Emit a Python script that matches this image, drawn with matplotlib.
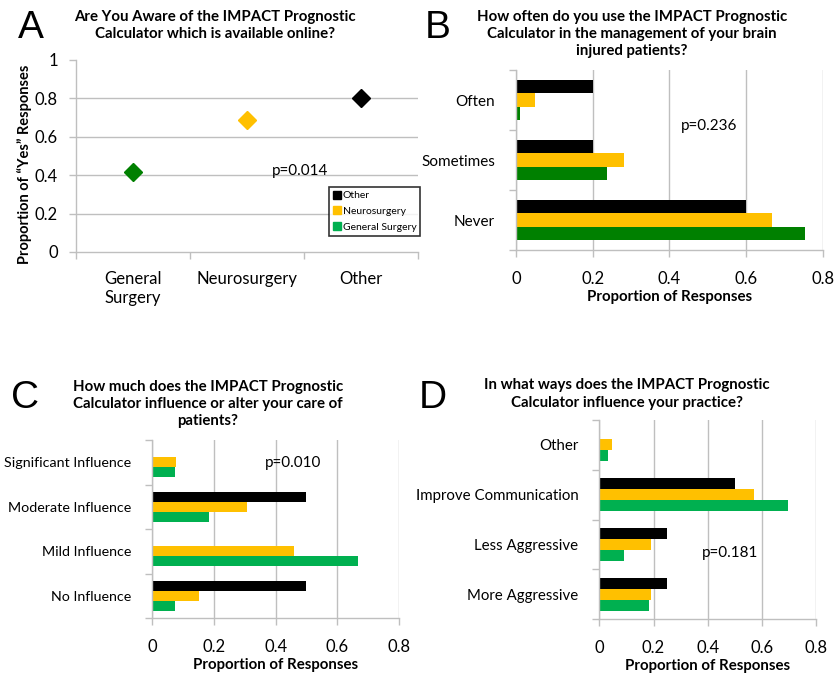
import matplotlib.pyplot as plt
import numpy as np

plt.rcParams['font.family'] = ['Lato', 'DejaVu Sans']

BLACK = "#000000"
YELLOW = "#FFC000"
DKGREEN = "#008000"
GREEN = "#00B050"
GRID = "#BFBFBF"

# Panel A: proportion of "Yes"
a_groups = ["General\nSurgery", "Neurosurgery", "Other"]
a_yes = [0.417, 0.688, 0.80]

# Panel B: how often used
b_cats = ["Often", "Sometimes", "Never"]
b_other = [0.20, 0.20, 0.60]
b_neuro = [0.05, 0.281, 0.667]
b_gensurg = [0.01, 0.237, 0.754]

# Panel C: how much influence
c_cats = ["Significant Influence", "Moderate Influence", "Mild Influence", "No Influence"]
c_other = [0.0, 0.50, 0.0, 0.50]
c_neuro = [0.076, 0.306, 0.46, 0.153]
c_gensurg = [0.074, 0.185, 0.667, 0.074]

# Panel D: ways of influence
d_cats = ["Other", "Improve Communication", "Less Aggressive", "More Aggressive"]
d_other = [0.0, 0.50, 0.25, 0.25]
d_neuro = [0.047, 0.571, 0.19, 0.19]
d_gensurg = [0.032, 0.697, 0.09, 0.182]

W, H = 837, 675
fig = plt.figure(figsize=(W / 100, H / 100), dpi=100)


def box(l, t, r, b):
    return [l / W, 1 - b / H, (r - l) / W, (b - t) / H]


def ftext(x, y, s, **kw):
    fig.text(x / W, 1 - y / H, s, **kw)


def style_axes(ax):
    for s in ["top", "right"]:
        ax.spines[s].set_visible(False)
    for s in ["left", "bottom"]:
        ax.spines[s].set_color(GRID)
        ax.spines[s].set_linewidth(1.0)
    ax.tick_params(which="major", color=GRID, length=5, width=1.0)
    ax.set_axisbelow(True)


def hbar_panel(rect, cats, other, neuro, gen, green, ptext, pxy, catsize):
    ax = fig.add_axes(box(*rect))
    n = len(cats)
    y = np.arange(n)
    h = 0.222
    ax.barh(y - h, other, height=h, color=BLACK)
    ax.barh(y, neuro, height=h, color=YELLOW)
    ax.barh(y + h, gen, height=h, color=green)
    ax.set_ylim(n - 0.5, -0.5)
    ax.set_xlim(0, 0.8)
    ax.set_xticks([0, 0.2, 0.4, 0.6, 0.8])
    ax.set_xticklabels(["0", "0.2", "0.4", "0.6", "0.8"], fontsize=12)
    ax.set_yticks(np.arange(n + 1) - 0.5)
    ax.set_yticklabels([])
    ax.set_yticks(y, minor=True)
    ax.set_yticklabels(cats, minor=True, fontsize=catsize)
    ax.tick_params(axis="y", which="minor", length=0, pad=15)
    ax.tick_params(axis="x", pad=10)
    ax.xaxis.grid(True, color=GRID, linewidth=1.0)
    style_axes(ax)
    ax.set_xlabel("Proportion of Responses", fontsize=10.8, fontweight="bold", labelpad=2)
    ax.text(pxy[0], pxy[1], ptext, fontsize=11, transform=ax.transData)
    return ax


# ---- Panel A ----
axA = fig.add_axes(box(76, 60, 418, 252))
x = np.arange(3)
colsA = [DKGREEN, YELLOW, BLACK]
for xi, v, c in zip(x, a_yes, colsA):
    axA.plot(xi, v, marker="D", markersize=9.5, color=c, linestyle="none")
axA.set_xlim(-0.5, 2.5)
axA.set_ylim(0, 1)
axA.set_yticks([0, 0.2, 0.4, 0.6, 0.8, 1])
axA.set_yticklabels(["0", "0.2", "0.4", "0.6", "0.8", "1"], fontsize=12)
axA.set_xticks([-0.5, 0.5, 1.5, 2.5])
axA.set_xticklabels([])
axA.set_xticks(x, minor=True)
axA.set_xticklabels(a_groups, minor=True, fontsize=12)
axA.tick_params(axis="x", which="minor", length=0, pad=14)
axA.tick_params(axis="y", pad=8)
for gy in [0.2, 0.4, 0.6, 0.8]:
    axA.axhline(gy, color=GRID, linewidth=1.0, zorder=0)
style_axes(axA)
axA.set_ylabel("Proportion of \u201cYes\u201d Responses", fontsize=10.5, fontweight="bold")
axA.yaxis.set_label_coords(-0.129, 0.458)
axA.text(1.22, 0.4, "p=0.014", fontsize=11)
handles = [plt.Line2D([], [], marker="s", color=c, linestyle="none", markersize=5.5)
           for c in [BLACK, YELLOW, GREEN]]
leg = axA.legend(handles, ["Other", "Neurosurgery", "General Surgery"], fontsize=7.5,
                 loc="upper left", bbox_to_anchor=((329 - 76) / 342, (252 - 187) / 192),
                 frameon=True, fancybox=False, handletextpad=0.1, handlelength=0.8,
                 borderpad=0.4, labelspacing=0.6, borderaxespad=0)
leg.get_frame().set_edgecolor("black")
leg.get_frame().set_linewidth(1.2)

# ---- Panels B, C, D ----
hbar_panel((516, 70, 822.7, 250), b_cats, b_other, b_neuro, b_gensurg, DKGREEN,
           "p=0.236", (0.43, 0.5), 11)
hbar_panel((152.3, 440, 399, 618), c_cats, c_other, c_neuro, c_gensurg, GREEN,
           "p=0.010", (0.365, 0.1), 10.3)
hbar_panel((599.3, 420, 816.3, 619), d_cats, d_other, d_neuro, d_gensurg, GREEN,
           "p=0.181", (0.38, 2.25), 10.8)

# titles
tkw = dict(fontsize=10.8, fontweight="bold", ha="center", va="center", linespacing=1.3)
ftext(215, 25.5, "Are You Aware of the IMPACT Prognostic\nCalculator which is available online?", **tkw)
ftext(632, 34, "How often do you use the IMPACT Prognostic\nCalculator in the management of your brain\ninjured patients?", **tkw)
ftext(208, 404, "How much does the IMPACT Prognostic\nCalculator influence or alter your care of\npatients?", **tkw)
ftext(627, 394, "In what ways does the IMPACT Prognostic\nCalculator influence your practice?", **tkw)

# panel letters
lkw = dict(fontsize=28, ha="center", va="center", family="Liberation Sans")
ftext(31, 28, "A", **lkw)
ftext(438, 28, "B", **lkw)
ftext(25, 398, "C", **lkw)
ftext(433, 398, "D", **lkw)

fig.savefig("out.png", dpi=100)
